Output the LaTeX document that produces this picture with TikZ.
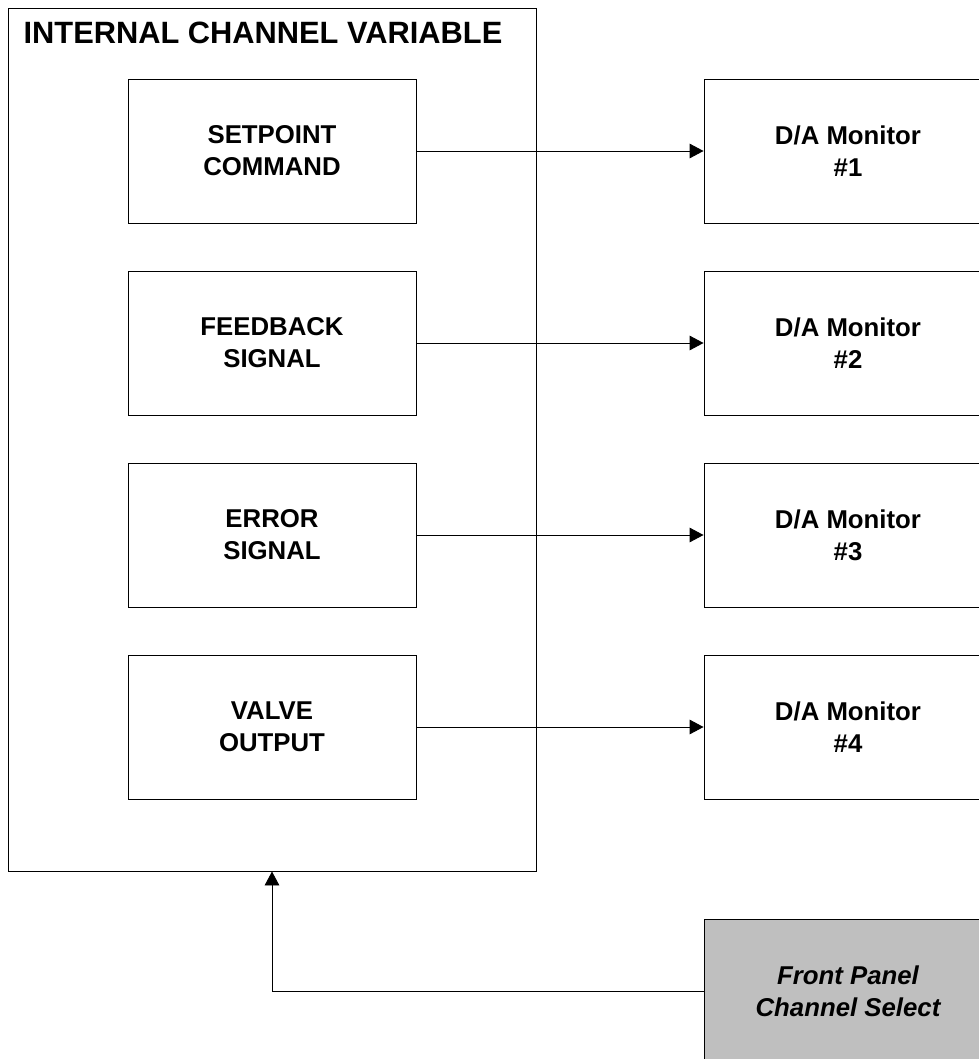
\documentclass[tikz,border=0pt]{standalone}
\usepackage{fontspec}
\setmainfont{Liberation Sans}
\usetikzlibrary{arrows.meta}
\tikzset{
  varbox/.style={draw, line width=0.8pt, minimum width=8.64cm, minimum height=4.32cm,
    align=center, font=\fontsize{22}{27.3}\selectfont\bfseries},
  monbox/.style={varbox},
  selbox/.style={varbox, fill=black!25, font=\fontsize{22}{27.3}\selectfont\bfseries\itshape},
  sig/.style={line width=0.8pt, -{Triangle[length=4.2mm,width=4.4mm]}}
}
\begin{document}
\begin{tikzpicture}[x=0.03cm,y=-0.03cm]
\useasboundingbox (0,0) rectangle (979,1059);
\clip (0,0) rectangle (979,1059);
% Channel variable frame
\node[draw, line width=0.8pt, minimum width=15.84cm, minimum height=25.89cm] (chanvar) at (272,439.5) {};
\node[font=\fontsize{26.3}{30}\selectfont\bfseries] (title) at (263,33) {INTERNAL CHANNEL VARIABLE};

% Variables
\node[varbox] (setpoint) at (272,151) {SETPOINT\\COMMAND};
\node[varbox] (feedback) at (272,343) {FEEDBACK\\SIGNAL};
\node[varbox] (error) at (272,535) {ERROR\\SIGNAL};
\node[varbox] (valve) at (272,727) {VALVE\\OUTPUT};

% Monitors
\node[monbox] (mon1) at (848,151) {D/A Monitor\\\#1};
\node[monbox] (mon2) at (848,343) {D/A Monitor\\\#2};
\node[monbox] (mon3) at (848,535) {D/A Monitor\\\#3};
\node[monbox] (mon4) at (848,727) {D/A Monitor\\\#4};

% Channel select
\node[selbox] (select) at (848,991) {Front Panel\\Channel Select};

% Arrows
\draw[sig] (setpoint.east) -- (mon1.west);
\draw[sig] (feedback.east) -- (mon2.west);
\draw[sig] (error.east) -- (mon3.west);
\draw[sig] (valve.east) -- (mon4.west);
\draw[sig] (select.west) -| (chanvar.south);
\end{tikzpicture}
\end{document}
